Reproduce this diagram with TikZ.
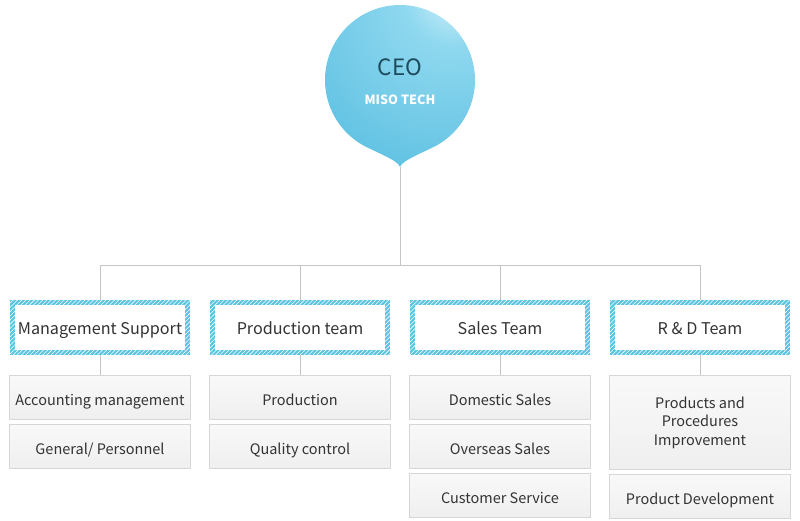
\documentclass[tikz,border=0pt]{standalone}
\usepackage{fontspec}
\setmainfont{Noto Sans CJK KR}
\usetikzlibrary{positioning,patterns,shadings}

\definecolor{teamblue}{HTML}{5BC4E2}
\definecolor{ceolight}{HTML}{E0F6FC}
\definecolor{ceomid}{HTML}{8FD8EF}
\definecolor{ceoblue}{HTML}{52BBDF}
\definecolor{ceotext}{HTML}{1E4C5C}
\definecolor{textgray}{HTML}{333333}
\definecolor{boxgray}{HTML}{D6D6D6}
\definecolor{boxfill}{HTML}{EFEFEF}
\definecolor{linegray}{HTML}{C4C4C4}

\pgfdeclareradialshading{ceoshade}{\pgfpoint{18bp}{28bp}}{color(0bp)=(ceolight); color(14bp)=(ceomid); color(45bp)=(ceoblue!80!ceomid); color(80bp)=(ceoblue); color(100bp)=(ceoblue)}

\tikzstyle{team} = [rectangle, minimum width=4.5cm, minimum height=1.375cm, text centered, text height=1em, text depth=0pt, text=textgray, font=\fontsize{11.5}{14}\selectfont, preaction={fill=teamblue}, preaction={pattern=north east lines, pattern color=white}, path picture={\fill[white] ([shift={(3.6pt,-3.6pt)}]path picture bounding box.north west) rectangle ([shift={(-3.6pt,3.6pt)}]path picture bounding box.south east);}]
\tikzstyle{unit} = [rectangle, minimum width=4.5cm, minimum height=1.1cm, text centered, align=center, text height=1.05em, text depth=0pt, draw=boxgray, line width=0.7pt, top color=white!60!boxfill, bottom color=boxfill, text=textgray, font=\fontsize{10.3}{13}\selectfont]
\tikzstyle{conn} = [draw=linegray, line width=0.7pt]

\begin{document}
\begin{tikzpicture}[x=0.025cm, y=0.025cm, node distance=0.5cm]
    %\draw[step=1cm,gray,very thin] (0,0) grid (800,-520);
    \useasboundingbox (0,0) rectangle (800,-520);
	\coordinate (Tip) at (400,-167);
	\coordinate (Bus) at (400,-265);
	\shade [shading=ceoshade] (Tip) .. controls (398,-160) and (373,-151) .. (362.5,-144.95) arc[start angle=240, end angle=-60, radius=75] .. controls (427,-151) and (402,-160) .. (Tip) -- cycle;
	\node (CEO) at (400,-67) [text=ceotext, font=\fontsize{16}{18}\selectfont] {CEO};
	\node (Miso) at (400,-100) [text=white, font=\bfseries\fontsize{9}{11}\selectfont] {MISO TECH};
	\node (Mgmt) at (100,-327.5) [team] {Management Support};
	\node (Prod) at (300,-327.5) [team] {Production team};
	\node (Sales) at (500,-327.5) [team] {Sales Team};
	\node (RnD) at (700,-327.5) [team] {R \& D Team};
	\node (Acct) [unit, below=0.5cm of Mgmt] {Accounting management};
	\node (General) [unit, below=0.1cm of Acct] {General/ Personnel};
	\node (Production) [unit, below=0.5cm of Prod] {Production};
	\node (Quality) [unit, below=0.1cm of Production] {Quality control};
	\node (Domestic) [unit, below=0.5cm of Sales] {Domestic Sales};
	\node (Overseas) [unit, below=0.1cm of Domestic] {Overseas Sales};
	\node (Service) [unit, below=0.1cm of Overseas] {Customer Service};
	\node (Improve) [unit, below=0.5cm of RnD, minimum height=2.35cm, text height=, text depth=] {Products and\\Procedures\\Improvement};
	\node (Develop) [unit, below=0.1cm of Improve] {Product Development};
	\draw [conn] (Tip) -- (Bus);
	\draw [conn] (Mgmt) |- (Bus);
	\draw [conn] (Prod) |- (Bus);
	\draw [conn] (Sales) |- (Bus);
	\draw [conn] (RnD) |- (Bus);
	\draw [conn] (Mgmt) -- (Acct);
	\draw [conn] (Prod) -- (Production);
	\draw [conn] (Sales) -- (Domestic);
	\draw [conn] (RnD) -- (Improve);
\end{tikzpicture}
\end{document}
